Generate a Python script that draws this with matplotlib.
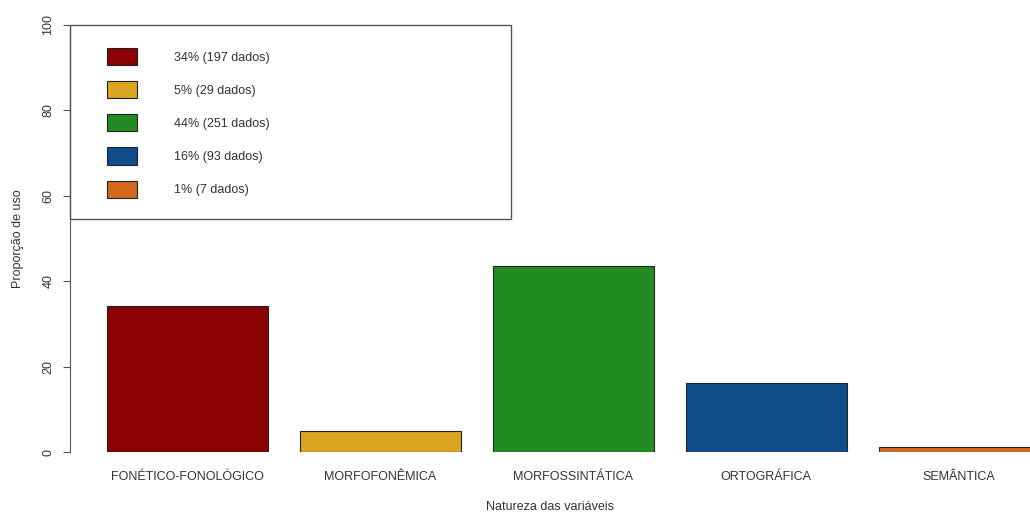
import matplotlib.pyplot as plt
from matplotlib.patches import Rectangle

# dados do gráfico
categorias = ['FONÉTICO-FONOLÓGICO', 'MORFOFONÊMICA', 'MORFOSSINTÁTICA', 'ORTOGRÁFICA', 'SEMÂNTICA']
proporcao = [34.1, 5.0, 43.5, 16.1, 1.2]
rotulos = ['34% (197 dados)', '5% (29 dados)', '44% (251 dados)', '16% (93 dados)', '1% (7 dados)']
cores = ['#8B0000', '#DAA520', '#228B22', '#104E8B', '#D2691E']

plt.rcParams['font.family'] = ['Liberation Sans', 'DejaVu Sans']

# posições como no barplot do R (width=1, space=0.2)
xpos = [0.7 + 1.2 * i for i in range(len(categorias))]

fig = plt.figure(figsize=(10.3, 5.13), dpi=100)
ax = fig.add_axes([69.7 / 1030, 61 / 513, 960.3 / 1030, 427 / 513])

barras = ax.bar(xpos, proporcao, width=1, color=cores, edgecolor='#222222', linewidth=0.8)

ax.set_xlim(-0.032, 5.94)
ax.set_ylim(0, 100)
for lado in ['top', 'right', 'bottom']:
    ax.spines[lado].set_visible(False)
ax.spines['left'].set_color('#555555')
ax.spines['left'].set_bounds(0, 100)

ax.set_yticks(range(0, 101, 20))
ax.tick_params(axis='y', length=5, width=0.8, color='#555555', pad=6,
               labelsize=9, labelcolor='#333333')
for lbl in ax.get_yticklabels():
    lbl.set_rotation(90)
    lbl.set_va('center')

ax.set_xticks(xpos, categorias)
ax.tick_params(axis='x', length=0, pad=14, labelsize=9, labelcolor='#333333')
ax.set_xlabel('Natureza das variáveis', fontsize=9, labelpad=13, color='#333333')
ax.set_ylabel('Proporção de uso', fontsize=9, labelpad=13, color='#333333')

# caixa da legenda
ax.add_patch(Rectangle((0, 0.546), 0.4596, 0.454, transform=ax.transAxes,
                       fill=False, edgecolor='#555555', lw=1, clip_on=False))
leg = ax.legend(barras.patches, rotulos, loc='upper left', bbox_to_anchor=(0.0388, 0.946),
                borderpad=0, borderaxespad=0, frameon=False, handlelength=2.4,
                handleheight=1.73, labelspacing=1.28, handletextpad=3.0, fontsize=9)
for t in leg.get_texts():
    t.set_color('#333333')

fig.savefig('out.png', dpi=100)
